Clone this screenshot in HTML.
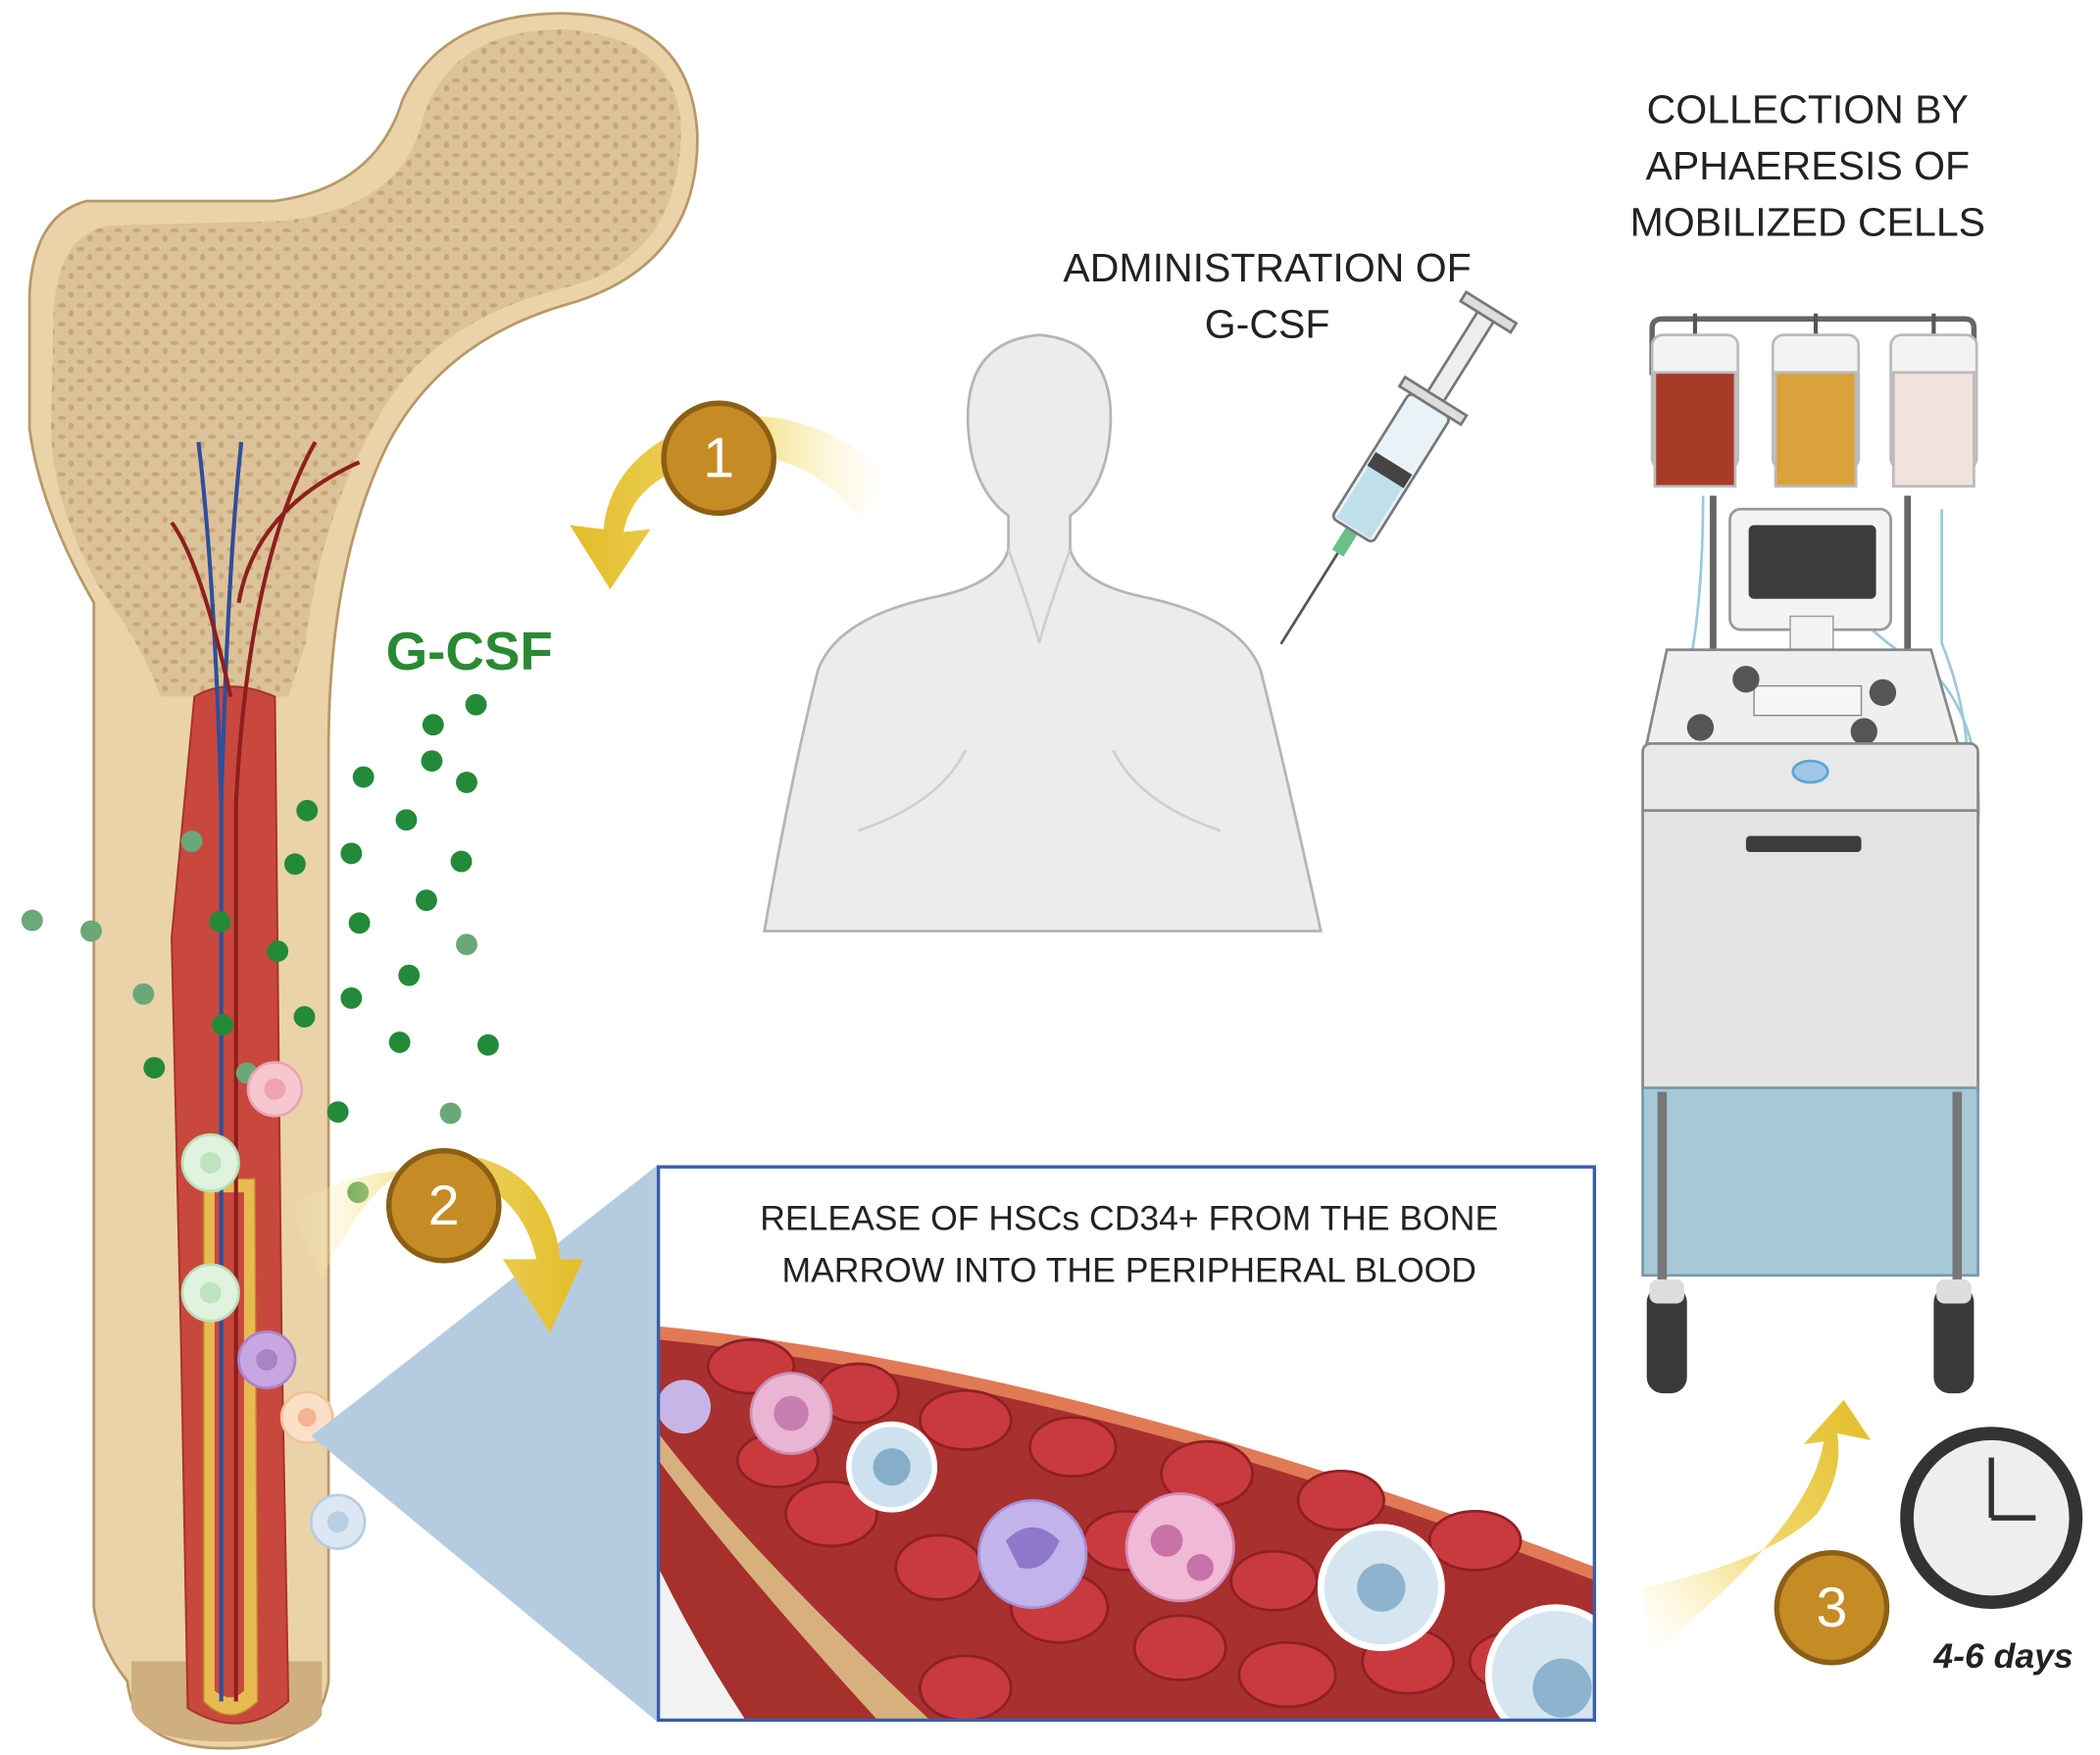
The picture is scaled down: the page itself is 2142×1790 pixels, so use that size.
<!DOCTYPE html>
<html><head><meta charset="utf-8"><style>
html,body{margin:0;padding:0;background:#fff}
svg{display:block}
text{font-family:"Liberation Sans",sans-serif}
</style></head><body>
<svg width="2142" height="1790" viewBox="0 0 1566 1310" preserveAspectRatio="none" xmlns="http://www.w3.org/2000/svg">
<defs>
<pattern id="sp" width="14" height="14" patternUnits="userSpaceOnUse">
<rect width="14" height="14" fill="#dcc298"/>
<ellipse cx="4" cy="4" rx="3" ry="1.6" fill="#c9a677"/>
<ellipse cx="11" cy="10" rx="2" ry="2.5" fill="#c9a677"/>
</pattern>
<linearGradient id="ya" x1="1" y1="0" x2="0" y2="0"><stop offset="0" stop-color="#fff6c8" stop-opacity="0"/><stop offset="0.5" stop-color="#f0d668"/><stop offset="1" stop-color="#e2bd28"/></linearGradient>
<linearGradient id="yb" x1="0" y1="0" x2="1" y2="0"><stop offset="0" stop-color="#fff6c8" stop-opacity="0"/><stop offset="0.5" stop-color="#f0d668"/><stop offset="1" stop-color="#e2bd28"/></linearGradient>
<linearGradient id="yc" x1="0" y1="1" x2="1" y2="0"><stop offset="0" stop-color="#fff6c8" stop-opacity="0"/><stop offset="0.5" stop-color="#f0d668"/><stop offset="1" stop-color="#e2bd28"/></linearGradient>
<clipPath id="bx"><rect x="491" y="871" width="698" height="413"/></clipPath>
</defs>

<path d="M95,1255 Q100,1305 168,1305 Q238,1305 245,1255 L245,560 Q245,420 290,330 Q330,255 420,228 Q522,200 520,100 Q515,12 420,10 Q330,10 300,75 Q280,140 205,150 L65,150 Q25,160 22,220 L22,320 Q30,380 70,450 L70,1200 Q75,1230 95,1255 Z" fill="#ead3a8" stroke="#b89868" stroke-width="2"/>
<path d="M75,440 Q40,380 38,320 L40,230 Q45,168 90,168 L210,165 Q300,155 315,90 Q335,22 420,22 Q508,28 508,100 Q505,195 420,215 Q320,240 280,315 Q238,390 228,480 L215,520 L120,520 Q105,480 75,440 Z" fill="url(#sp)"/>
<path d="M98,1240 L240,1240 L240,1280 Q230,1300 168,1300 Q105,1300 98,1275 Z" fill="#cfae80"/>
<path d="M145,520 Q170,505 205,520 L210,1000 L215,1270 Q180,1300 140,1275 L135,1000 L128,700 Z" fill="#c9483e" stroke="#a9332b" stroke-width="1.5"/>
<path d="M152,880 L190,880 L192,1270 Q172,1290 152,1270 Z" fill="#e8bb52" stroke="#c08d2a"/>
<path d="M160,890 L182,890 L182,1262 Q172,1272 160,1262 Z" fill="#c9483e"/>
<path d="M165,1270 L165,600 Q160,430 148,330 M165,600 Q170,420 180,330" stroke="#2d4f9c" stroke-width="3" fill="none"/>
<path d="M176,1270 L176,600 Q185,420 235,330 M178,450 Q190,380 268,345 M172,520 Q150,420 128,390" stroke="#8e1f1f" stroke-width="3" fill="none"/>

<g fill="#238a3a">
<circle cx="355" cy="526" r="8"/><circle cx="323" cy="541" r="8"/><circle cx="271" cy="580" r="8"/><circle cx="322" cy="568" r="8"/><circle cx="348" cy="584" r="8"/><circle cx="229" cy="605" r="8"/><circle cx="303" cy="612" r="8"/><circle cx="262" cy="637" r="8"/><circle cx="344" cy="643" r="8"/><circle cx="220" cy="645" r="8"/><circle cx="268" cy="689" r="8"/><circle cx="318" cy="672" r="8"/><circle cx="164" cy="688" r="8"/><circle cx="207" cy="710" r="8"/><circle cx="305" cy="728" r="8"/><circle cx="262" cy="745" r="8"/><circle cx="227" cy="759" r="8"/><circle cx="166" cy="765" r="8"/><circle cx="298" cy="778" r="8"/><circle cx="364" cy="780" r="8"/><circle cx="115" cy="797" r="8"/><circle cx="252" cy="830" r="8"/><circle cx="267" cy="890" r="8"/>
</g>
<g fill="#6aa878"><circle cx="24" cy="687" r="8"/><circle cx="68" cy="695" r="8"/><circle cx="107" cy="742" r="8"/><circle cx="143" cy="628" r="8"/><circle cx="184" cy="801" r="8"/><circle cx="336" cy="831" r="8"/><circle cx="348" cy="705" r="8"/></g>
<circle cx="205" cy="813" r="20" fill="#f6c7cf" stroke="#e8a5b2" stroke-width="2"/><circle cx="205" cy="813" r="8" fill="#eea3ae"/>
<circle cx="157" cy="868" r="21" fill="#dff3df" stroke="#b9e0b9" stroke-width="2"/><circle cx="157" cy="868" r="8" fill="#bfe3bf"/>
<circle cx="157" cy="965" r="21" fill="#dff3df" stroke="#b9e0b9" stroke-width="2"/><circle cx="157" cy="965" r="8" fill="#bfe3bf"/>
<circle cx="199" cy="1015" r="21" fill="#c8a6e2" stroke="#a985c8" stroke-width="2"/><circle cx="199" cy="1015" r="8" fill="#a982c8"/>
<circle cx="229" cy="1058" r="19" fill="#fbe0c8" stroke="#f1c19c" stroke-width="2"/><circle cx="229" cy="1058" r="7" fill="#f2b591"/>
<circle cx="252" cy="1136" r="20" fill="#dbe8f3" stroke="#b7cde0" stroke-width="2"/><circle cx="252" cy="1136" r="8" fill="#b8d0e4"/>

<text x="350" y="500" font-size="40" font-weight="bold" fill="#2a8a33" text-anchor="middle">G-CSF</text>
<text x="366" y="1062" font-size="46" font-weight="bold" fill="#d0312d" text-anchor="middle">HSCs</text>
<text x="380" y="1122" font-size="46" font-weight="bold" fill="#d0312d" text-anchor="middle">CD34+</text>

<polygon points="232,1072 490,870 490,1285" fill="#b5cce0"/>
<g clip-path="url(#bx)">
<rect x="491" y="871" width="698" height="413" fill="#fff"/>
<path d="M491,990 Q800,1020 1190,1170 L1190,1290 L491,1290 Z" fill="#e07a55"/>
<path d="M491,1000 Q800,1030 1190,1180 L1190,1290 L491,1290 Z" fill="#a8302e"/>
<path d="M491,1070 Q560,1160 700,1290 L491,1290 Z" fill="#d8b07e"/>
<path d="M491,1090 Q550,1170 660,1290 L491,1290 Z" fill="#a5302c"/>
<path d="M491,1170 Q520,1230 560,1290 L491,1290 Z" fill="#f2f2f2"/>
<g fill="#c93a3e" stroke="#8f1f25" stroke-width="2">
<ellipse cx="560" cy="1020" rx="32" ry="20"/><ellipse cx="640" cy="1040" rx="30" ry="22"/><ellipse cx="720" cy="1060" rx="34" ry="22"/><ellipse cx="800" cy="1080" rx="32" ry="22"/><ellipse cx="900" cy="1100" rx="34" ry="24"/><ellipse cx="1000" cy="1120" rx="32" ry="22"/><ellipse cx="1100" cy="1150" rx="34" ry="22"/>
<ellipse cx="620" cy="1130" rx="34" ry="24"/><ellipse cx="700" cy="1170" rx="32" ry="24"/><ellipse cx="790" cy="1200" rx="36" ry="26"/><ellipse cx="880" cy="1230" rx="34" ry="24"/><ellipse cx="960" cy="1250" rx="36" ry="24"/><ellipse cx="1050" cy="1240" rx="34" ry="24"/><ellipse cx="720" cy="1260" rx="34" ry="24"/><ellipse cx="840" cy="1150" rx="32" ry="22"/><ellipse cx="950" cy="1180" rx="32" ry="22"/><ellipse cx="1130" cy="1240" rx="34" ry="22"/><ellipse cx="580" cy="1090" rx="30" ry="20"/>
</g>
<circle cx="590" cy="1055" r="30" fill="#eab5d2" stroke="#c98fb5" stroke-width="2"/><circle cx="590" cy="1055" r="13" fill="#c77eb0"/>
<circle cx="510" cy="1050" r="20" fill="#c8b5e8"/>
<circle cx="665" cy="1095" r="32" fill="#cde2ee" stroke="#fff" stroke-width="4"/><circle cx="665" cy="1095" r="14" fill="#86aecb"/>
<circle cx="770" cy="1160" r="40" fill="#c2b3ea" stroke="#a590d6" stroke-width="2"/><path d="M750,1150 Q770,1130 790,1150 Q780,1175 760,1170 Z" fill="#8f78c9"/>
<circle cx="880" cy="1155" r="40" fill="#f0b9d6" stroke="#d58ab4" stroke-width="2"/><circle cx="870" cy="1150" r="12" fill="#c872a8"/><circle cx="895" cy="1170" r="10" fill="#c872a8"/>
<circle cx="1030" cy="1185" r="45" fill="#d5e6f1" stroke="#fff" stroke-width="5"/><circle cx="1030" cy="1185" r="18" fill="#8db3cf"/>
<circle cx="1160" cy="1250" r="50" fill="#d5e6f1" stroke="#fff" stroke-width="5"/><circle cx="1165" cy="1260" r="22" fill="#8db3cf"/>
</g>
<rect x="491" y="871" width="698" height="413" fill="none" stroke="#3a5ea8" stroke-width="2.5"/>
<text x="842" y="918" font-size="26" fill="#222" text-anchor="middle">RELEASE OF HSCs CD34+ FROM THE BONE</text>
<text x="842" y="957" font-size="26" fill="#222" text-anchor="middle">MARROW INTO THE PERIPHERAL BLOOD</text>

<path d="M665,355 Q590,290 510,320 Q455,345 450,395 L425,392 L455,440 L485,395 L465,397 Q472,360 520,345 Q590,325 640,385 Z" fill="url(#ya)"/>
<path d="M215,900 Q290,860 350,880 Q390,895 400,940 L375,940 L410,995 L435,940 L418,940 Q410,880 360,865 Q290,845 240,955 Z" fill="url(#yb)"/>
<path d="M1225,1185 Q1320,1165 1355,1130 Q1375,1100 1370,1070 L1395,1075 L1375,1045 L1345,1078 L1360,1076 Q1350,1140 1230,1235 Z" fill="url(#yc)"/>
<g font-size="42" fill="#fff" text-anchor="middle">
<circle cx="536" cy="342" r="41" fill="#c58c25" stroke="#8c5f15" stroke-width="4"/><text x="536" y="356">1</text>
<circle cx="331" cy="900" r="41" fill="#c58c25" stroke="#8c5f15" stroke-width="4"/><text x="331" y="914">2</text>
<circle cx="1366" cy="1200" r="41" fill="#c58c25" stroke="#8c5f15" stroke-width="4"/><text x="1366" y="1214">3</text>
</g>

<path d="M570,695 Q590,580 610,500 Q625,460 700,445 Q745,435 752,410 L752,385 Q725,365 722,320 Q718,255 775,250 Q832,255 828,320 Q825,365 798,385 L798,410 Q805,435 850,445 Q925,460 940,500 Q960,580 985,695 Z" fill="#ececec" stroke="#b5b5b5" stroke-width="2"/>
<path d="M640,620 Q700,600 720,560 M910,620 Q850,600 830,560 M752,410 Q770,460 775,480 M798,410 Q780,460 775,480" stroke="#cfcfcf" stroke-width="2" fill="none"/>
<text x="945" y="210" font-size="30" fill="#222" text-anchor="middle">ADMINISTRATION OF</text>
<text x="945" y="252" font-size="30" fill="#222" text-anchor="middle">G-CSF</text>
<g transform="rotate(-58 1040 345)">
<line x1="880" y1="345" x2="960" y2="345" stroke="#555" stroke-width="2"/>
<rect x="960" y="340" width="20" height="10" fill="#6bbf8a"/>
<rect x="980" y="327" width="110" height="36" rx="4" fill="#e9f3f7" stroke="#777" stroke-width="2"/>
<rect x="982" y="330" width="45" height="30" fill="#bfe0ea"/>
<rect x="1027" y="329" width="12" height="32" fill="#444"/>
<rect x="1090" y="318" width="8" height="54" fill="#ddd" stroke="#777" stroke-width="2"/>
<rect x="1098" y="338" width="70" height="14" fill="#eee" stroke="#777" stroke-width="2"/>
<rect x="1168" y="323" width="8" height="44" fill="#ddd" stroke="#777" stroke-width="2"/>
</g>

<text x="1348" y="92" font-size="30" fill="#222" text-anchor="middle">COLLECTION BY</text>
<text x="1348" y="134" font-size="30" fill="#222" text-anchor="middle">APHAERESIS OF</text>
<text x="1348" y="176" font-size="30" fill="#222" text-anchor="middle">MOBILIZED CELLS</text>
<path d="M1232,280 L1232,245 Q1232,238 1240,238 L1465,238 Q1472,238 1472,245 L1472,280" stroke="#666" stroke-width="4" fill="none"/>
<g stroke="#555" stroke-width="3"><line x1="1264" y1="234" x2="1264" y2="254"/><line x1="1354" y1="234" x2="1354" y2="254"/><line x1="1442" y1="234" x2="1442" y2="254"/></g>
<rect x="1275" y="370" width="5" height="120" fill="#666"/><rect x="1420" y="370" width="5" height="120" fill="#666"/>
<g stroke="#bbb" stroke-width="2">
<rect x="1232" y="250" width="64" height="100" rx="8" fill="#f3f3f3"/><rect x="1234" y="278" width="60" height="85" fill="#a83a28"/>
<rect x="1322" y="250" width="64" height="100" rx="8" fill="#f3f3f3"/><rect x="1324" y="278" width="60" height="85" fill="#d9a23a"/>
<rect x="1410" y="250" width="64" height="100" rx="8" fill="#f3f3f3"/><rect x="1412" y="278" width="60" height="85" fill="#efe3db"/>
</g>
<path d="M1270,370 Q1270,500 1240,560 Q1230,620 1240,640 M1355,380 Q1360,460 1440,500 Q1480,540 1475,620 M1448,380 L1448,480 Q1480,560 1460,640" stroke="#9cc9dc" stroke-width="2" fill="none"/>
<rect x="1290" y="380" width="120" height="90" rx="8" fill="#f3f3f3" stroke="#999" stroke-width="2"/>
<rect x="1304" y="392" width="95" height="55" rx="4" fill="#3c3c3c"/>
<rect x="1335" y="460" width="32" height="30" fill="#f3f3f3" stroke="#999"/>
<path d="M1243,485 L1440,485 L1460,555 L1228,555 Z" fill="#efefef" stroke="#888" stroke-width="2"/>
<rect x="1308" y="512" width="80" height="22" fill="#f6f6f6" stroke="#888"/>
<g fill="#555"><circle cx="1302" cy="507" r="10"/><circle cx="1404" cy="517" r="10"/><circle cx="1268" cy="543" r="10"/><circle cx="1390" cy="546" r="10"/></g>
<rect x="1225" y="555" width="250" height="55" rx="6" fill="#e8e8e8" stroke="#888" stroke-width="2"/>
<ellipse cx="1350" cy="576" rx="13" ry="8" fill="#9ec8e6" stroke="#5ea4d6" stroke-width="2"/>
<rect x="1225" y="605" width="250" height="210" fill="#e3e3e3" stroke="#888" stroke-width="2"/>
<rect x="1302" y="624" width="86" height="12" rx="3" fill="#3c3c3c"/>
<rect x="1225" y="812" width="250" height="140" fill="#a6c8d7" stroke="#7a9aa8" stroke-width="2"/>
<rect x="1236" y="815" width="7" height="150" fill="#777"/><rect x="1456" y="815" width="7" height="150" fill="#777"/>
<rect x="1228" y="960" width="30" height="80" rx="12" fill="#3a3a3a"/><rect x="1442" y="960" width="30" height="80" rx="12" fill="#3a3a3a"/>
<rect x="1230" y="955" width="26" height="18" rx="6" fill="#ddd"/><rect x="1444" y="955" width="26" height="18" rx="6" fill="#ddd"/>

<circle cx="1485" cy="1133" r="68" fill="#333"/><circle cx="1485" cy="1133" r="58" fill="#eee"/>
<path d="M1485,1133 L1485,1088 M1485,1133 L1518,1133" stroke="#333" stroke-width="4"/>
<text x="1494" y="1245" font-size="26" font-weight="bold" font-style="italic" fill="#222" text-anchor="middle">4-6 days</text>
</svg>
</body></html>
